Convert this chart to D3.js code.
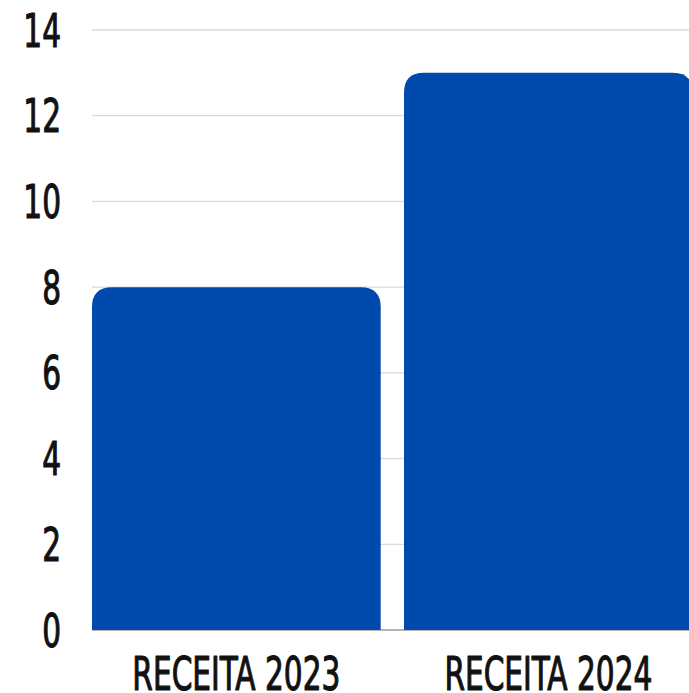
<!DOCTYPE html>
<html><head><meta charset="utf-8">
<script src="https://cdn.jsdelivr.net/npm/d3@7"></script>
<style>html,body{margin:0;padding:0;background:#fff;overflow:hidden}</style>
</head><body>
<svg id="c" width="689" height="693"></svg>
<script>
const categories = ["RECEITA 2023", "RECEITA 2024"];
const values = [8, 13];
const yTicks = [0, 2, 4, 6, 8, 10, 12, 14];

const svg = d3.select("#c");
const FONT = "'DejaVu Sans Condensed', 'Liberation Sans Narrow', sans-serif";
const x = d3.scaleBand().domain(categories).range([92, 692.7]).paddingInner(0.0747).paddingOuter(0);
const y = d3.scaleLinear().domain([0, 14]).range([630, 30]);

// gridlines
svg.append("g").selectAll("line").data(yTicks.filter(d => d > 0)).join("line")
  .attr("x1", 92).attr("x2", 689)
  .attr("y1", d => y(d)).attr("y2", d => y(d))
  .attr("stroke", "#d9d9d9").attr("stroke-width", 1.3);

// baseline
svg.append("line").attr("x1", 92).attr("x2", 689).attr("y1", y(0)).attr("y2", y(0))
  .attr("stroke", "#9a9a9a").attr("stroke-width", 1.5);

// bars with rounded top corners
const r = 20;
function barPath(x0, w, yTop, yBot) {
  return `M${x0},${yBot}V${yTop + r}Q${x0},${yTop} ${x0 + r},${yTop}H${x0 + w - r}Q${x0 + w},${yTop} ${x0 + w},${yTop + r}V${yBot}Z`;
}
svg.append("g").selectAll("path").data(categories).join("path")
  .attr("d", (c, i) => barPath(x(c), x.bandwidth(), y(values[i]), y(0)))
  .attr("fill", "#004aad");

// y tick labels
const tickG = svg.append("g");
tickG.selectAll("text").data(yTicks).join("text")
  .attr("class", "lbl")
  .attr("data-ax", 61).attr("data-ay", d => y(d) + 16.5)
  .attr("text-anchor", "end")
  .text(d => d);

// x labels
const xG = svg.append("g");
xG.selectAll("text").data(categories).join("text")
  .attr("class", "lbl")
  .attr("data-ax", c => x(c) + x.bandwidth() / 2).attr("data-ay", 690)
  .attr("text-anchor", "middle")
  .text(c => c);

const labels = svg.selectAll("text.lbl")
  .attr("font-family", FONT).attr("font-size", 45.5).attr("font-weight", 400)
  .attr("fill", "#111").attr("stroke", "#111").attr("stroke-width", 1.1)
  .attr("stroke-linejoin", "round");

// horizontal condensing to match the narrow display face
const probe = xG.select("text").attr("x", 0).attr("y", 0);
const w = probe.node().getBBox().width;
const sx = 208 / w;
labels.each(function () {
  const t = d3.select(this);
  const ax = +t.attr("data-ax"), ay = +t.attr("data-ay");
  t.attr("x", 0).attr("y", 0).attr("transform", `translate(${ax},${ay}) scale(${sx},1)`);
});
</script>
</body></html>
